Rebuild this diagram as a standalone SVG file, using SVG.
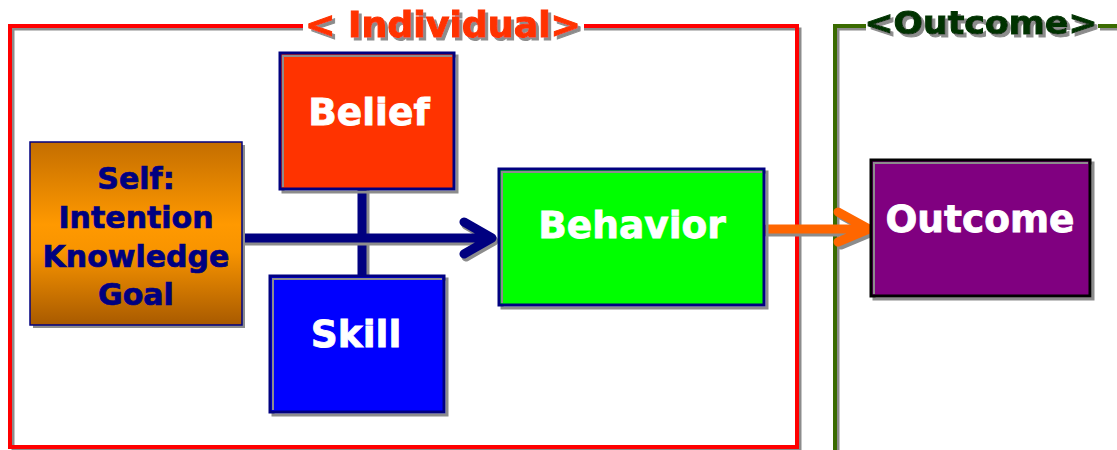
<svg xmlns="http://www.w3.org/2000/svg" width="1117" height="450" viewBox="0 0 1117 450">
<defs>
<linearGradient id="selfGrad" x1="0" y1="0" x2="0" y2="1">
<stop offset="0" stop-color="#C46E00"/>
<stop offset="0.45" stop-color="#FF9900"/>
<stop offset="0.6" stop-color="#F89400"/>
<stop offset="1" stop-color="#A85A00"/>
</linearGradient>
<filter id="tsh" x="-5%" y="-20%" width="115%" height="150%">
<feFlood flood-color="#8C8C8C"/>
<feComposite in2="SourceAlpha" operator="in"/>
<feOffset dx="3" dy="3" result="sh"/>
<feMerge><feMergeNode in="sh"/><feMergeNode in="SourceGraphic"/></feMerge>
</filter>
</defs>
<style>
text{font-family:"DejaVu Sans",Verdana,sans-serif;font-weight:bold;}
.lbl{fill:#FFFFFF;stroke:#FFFFFF;stroke-width:0.8;font-size:37.5px;text-anchor:middle;}
.self{fill:#000080;stroke:#000080;stroke-width:0.7;font-size:30px;text-anchor:middle;}
.shadow{fill:none;stroke:#8C8C8C;stroke-width:3;}
.box{stroke:#000080;stroke-width:3;}
.inner{fill:none;stroke:#8C8C8C;stroke-width:2;}
.conn{fill:none;stroke-width:9;}
.connsh{fill:none;stroke:#8C8C8C;stroke-width:9;}
</style>
<!-- frames -->
<g id="frame-individual">
<path d="M303 29 H13 V450 M13 450 H800 V29 H584" fill="none" stroke="#8C8C8C" stroke-width="3"/>
<path d="M303 26 H10 V447 H797 V26 H584" fill="none" stroke="#FF0000" stroke-width="4"/>
<text x="443" y="37" font-size="35" fill="#FF3300" stroke="#FF3300" stroke-width="1" text-anchor="middle" textLength="276" lengthAdjust="spacingAndGlyphs" filter="url(#tsh)">&lt; Individual&gt;</text>
</g>
<g id="frame-outcome">
<path d="M866 29 H838 V450 M1100 29 H1117" fill="none" stroke="#8C8C8C" stroke-width="3"/>
<path d="M866 26 H835 V452 M1098 26 H1117" fill="none" stroke="#3A6B00" stroke-width="4"/>
<text x="981" y="34" font-size="32" fill="#003300" stroke="#003300" stroke-width="1" text-anchor="middle" textLength="233" lengthAdjust="spacingAndGlyphs" filter="url(#tsh)">&lt;Outcome&gt;</text>
</g>
<!-- connectors -->
<g id="connectors">
<line x1="365" y1="190" x2="365" y2="276" class="connsh"/>
<line x1="362" y1="190" x2="362" y2="276" class="conn" stroke="#000080"/>
<path d="M245 241 H494 M466 225 L494 241 L466 257" class="connsh" stroke-linecap="round" stroke-linejoin="round"/>
<path d="M245 238 H492 M464 222 L492 238 L464 254" class="conn" stroke="#000080" stroke-linecap="round" stroke-linejoin="round"/>
<path d="M767 232 H872 M841 215 L872 232 L841 245" class="connsh" stroke-linecap="round" stroke-linejoin="round"/>
<path d="M767 229 H869 M838 212 L869 229 L838 242" class="conn" stroke="#FF6600" stroke-linecap="round" stroke-linejoin="round"/>
</g>
<!-- nodes -->
<g id="node-self">
<rect x="33" y="145" width="212" height="183" fill="#8C8C8C"/>
<rect x="30" y="142" width="212" height="183" fill="url(#selfGrad)" stroke="#000080" stroke-width="1.5"/>
<text x="136" y="189" class="self">Self:</text>
<text x="136" y="228" class="self">Intention</text>
<text x="136" y="267" class="self">Knowledge</text>
<text x="136" y="305" class="self">Goal</text>
</g>
<g id="node-belief">
<rect x="283" y="56" width="174" height="136" class="shadow"/>
<rect x="280" y="53" width="174" height="136" fill="#FF3300" class="box"/>
<path d="M283 187 V56 H452" class="inner"/>
<text x="369" y="125" class="lbl">Belief</text>
</g>
<g id="node-skill">
<rect x="273" y="279" width="174" height="136" class="shadow"/>
<rect x="270" y="276" width="174" height="136" fill="#0000FF" class="box"/>
<path d="M273 410 V279 H442" class="inner"/>
<text x="356" y="347" class="lbl">Skill</text>
</g>
<g id="node-behavior">
<rect x="502" y="172" width="265" height="136" class="shadow"/>
<rect x="499" y="169" width="265" height="136" fill="#00FF00" class="box"/>
<path d="M502 303 V172 H762" class="inner"/>
<text x="632" y="238" class="lbl">Behavior</text>
</g>
<g id="node-outcome">
<rect x="874" y="163" width="219" height="136" class="shadow"/>
<rect x="871" y="160" width="219" height="136" fill="#800080" stroke="#000000" stroke-width="3"/>
<path d="M874 294 V163 H1088" class="inner"/>
<text x="980" y="232" class="lbl">Outcome</text>
</g>
</svg>
